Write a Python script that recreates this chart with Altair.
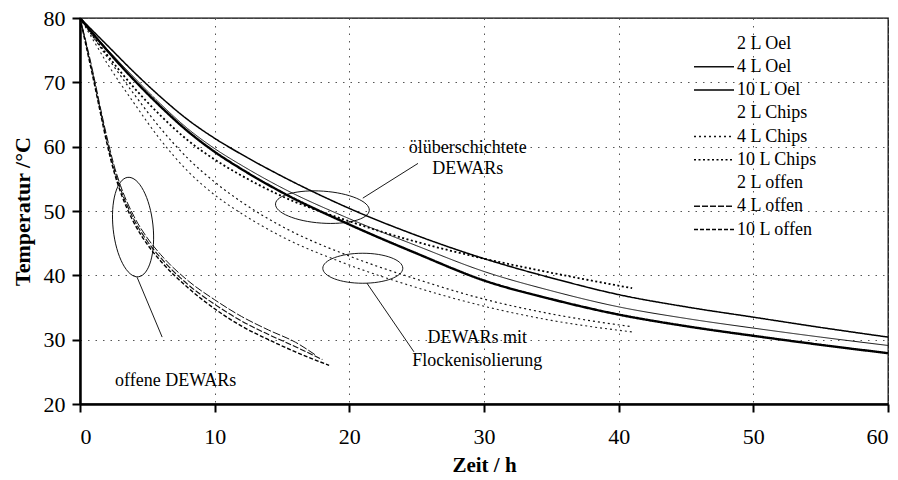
import altair as alt
import pandas as pd

# ---------------- data ----------------
series_names = ["2 L Oel", "4 L Oel", "10 L Oel",
                "2 L Chips", "4 L Chips", "10 L Chips",
                "2 L offen", "4 L offen", "10 L offen"]

t_oel = [0, 2, 4, 6, 8, 10, 12, 15, 20, 25, 30, 35, 40, 45, 50, 55, 60]
oel_2 = [80, 75.8, 71.6, 67.7, 64.2, 61.3, 58.8, 55.4, 50.4, 46.2, 42.6, 39.6, 37.0, 35.1, 33.5, 31.9, 30.4]
oel_4 = [80, 75.2, 70.8, 66.6, 62.8, 59.7, 57.1, 53.6, 48.8, 44.6, 40.6, 37.6, 35.1, 33.3, 31.8, 30.4, 29.1]
oel_10 = [80, 75.0, 70.4, 66.2, 62.4, 59.2, 56.5, 52.9, 47.9, 43.4, 39.2, 36.3, 33.9, 32.1, 30.6, 29.2, 27.9]

t_chips = [0, 1, 2, 4, 6, 8, 10, 12, 15, 20, 25, 30, 35, 41]
chips_2 = [80, 76.5, 73.0, 66.8, 61.0, 56.2, 52.5, 49.6, 46.0, 41.6, 38.1, 35.2, 33.0, 31.2]
chips_4 = [80, 77.0, 74.0, 68.2, 62.8, 58.2, 54.5, 51.4, 47.6, 43.0, 39.4, 36.3, 34.0, 32.0]
t_chips10 = [0, 2, 4, 6, 8, 10, 12, 15, 20, 25, 30, 35, 41]
chips_10 = [80, 74.3, 69.2, 64.8, 61.0, 58.0, 55.5, 52.3, 48.4, 45.2, 42.6, 40.4, 38.0]

t_off2 = [0, 0.5, 1, 1.5, 2, 2.5, 3, 4, 5, 6, 8, 10, 12, 14, 16, 17.5]
off_2 = [80, 75.8, 71.2, 66.2, 61.5, 57.3, 54.0, 49.2, 45.8, 43.2, 39.2, 36.2, 33.6, 31.5, 29.6, 27.6]
t_off4 = [0, 0.5, 1, 1.5, 2, 2.5, 3, 4, 5, 6, 8, 10, 12, 14, 16, 18]
off_4 = [80, 75.5, 70.8, 65.8, 61.0, 56.8, 53.5, 48.7, 45.3, 42.7, 38.6, 35.5, 32.9, 30.8, 28.9, 26.9]
t_off10 = [0, 0.5, 1, 1.5, 2, 2.5, 3, 4, 5, 6, 8, 10, 12, 14, 16, 18.5]
off_10 = [80, 75.2, 70.4, 65.4, 60.5, 56.3, 53.0, 48.2, 44.8, 42.2, 38.1, 34.8, 32.1, 30.0, 28.1, 26.0]

x_ticks = [0, 10, 20, 30, 40, 50, 60]
y_ticks = [20, 30, 40, 50, 60, 70, 80]

# annotation texts (data positions)
note_text = ["ölüberschichtete", "DEWARs", "DEWARs mit", "Flockenisolierung", "offene DEWARs"]
note_t = [28.8, 28.8, 29.5, 29.5, 7.1]
note_T = [59.8, 56.6, 30.2, 26.7, 23.6]

# ellipses: centre, half axes (px), rotation
ell_t = [18.0, 21.0, 3.94]
ell_T = [50.6, 41.1, 47.5]
ell_rx = [47, 40, 20]
ell_ry = [16, 15, 50]
ell_angle = [4, 0, 354]

# leader lines
lead_t1 = [21.0, 21.3, 4.24]
lead_T1 = [52.0, 38.8, 39.7]
lead_t2 = [25.1, 24.8, 6.1]
lead_T2 = [57.4, 28.1, 30.4]

# ---------------- styles ----------------
dashes = [[1, 0], [1, 0], [1, 0], [2, 3], [2, 3], [2, 2.5], [8, 2], [6, 2], [4, 2]]
widths = [1.5, 1.0, 2.4, 1.1, 1.2, 1.8, 1.0, 1.1, 1.4]
colors = ["#000000", "#111111", "#000000", "#222222", "#111111", "#000000",
          "#111111", "#111111", "#000000"]
FONT = "Liberation Serif"

series_data = [(t_oel, oel_2), (t_oel, oel_4), (t_oel, oel_10),
               (t_chips, chips_2), (t_chips, chips_4), (t_chips10, chips_10),
               (t_off2, off_2), (t_off4, off_4), (t_off10, off_10)]
rows = []
for name, w, (ts, vs) in zip(series_names, widths, series_data):
    for t, v in zip(ts, vs):
        rows.append({"series": name, "t": t, "T": v, "w": w})
df = pd.DataFrame(rows)

x_scale = alt.Scale(domain=[0, 60], nice=False, zero=False)
y_scale = alt.Scale(domain=[20, 80], nice=False, zero=False)

legend = alt.Legend(
    title=None, orient="none", legendX=613, legendY=16,
    symbolType="stroke", symbolSize=1600, symbolStrokeWidth=1.5,
    clipHeight=19, rowPadding=4.25,
    labelFont=FONT, labelFontSize=18, labelColor="black", labelOffset=2,
    padding=0,
    symbolOpacity={"expr": "indexof(datum.value, '2 L') === 0 ? 0 : 1"},
)

lines = alt.Chart(df).mark_line(interpolate="monotone", clip=True).encode(
    x=alt.X("t:Q", scale=x_scale, axis=alt.Axis(values=x_ticks, title="Zeit / h",
                                                 labelPadding=14, titlePadding=7)),
    y=alt.Y("T:Q", scale=y_scale, axis=alt.Axis(values=y_ticks, title="Temperatur /°C",
                                                labelPadding=7, titlePadding=9)),
    color=alt.Color("series:N", scale=alt.Scale(domain=series_names, range=colors), legend=legend),
    strokeDash=alt.StrokeDash("series:N", scale=alt.Scale(domain=series_names, range=dashes), legend=legend),
    strokeWidth=alt.StrokeWidth("w:Q", scale=None),
    order=alt.Order("t:Q"),
)

k = 0.5523
paths, sizes = [], []
for rx, ry in zip(ell_rx, ell_ry):
    m = max(rx, ry)
    a, b = rx / m, ry / m
    paths.append(
        f"M {a} 0 C {a} {k*b} {k*a} {b} 0 {b} C {-k*a} {b} {-a} {k*b} {-a} 0 "
        f"C {-a} {-k*b} {-k*a} {-b} 0 {-b} C {k*a} {-b} {a} {-k*b} {a} 0 Z")
    sizes.append((2 * m) ** 2)
ell_df = pd.DataFrame({"t": ell_t, "T": ell_T, "path": paths, "size": sizes, "angle": ell_angle})
ellipses = alt.Chart(ell_df).mark_point(filled=False, color="black", strokeWidth=0.9, opacity=1).encode(
    x=alt.X("t:Q", scale=x_scale), y=alt.Y("T:Q", scale=y_scale),
    shape=alt.Shape("path:N", scale=None),
    size=alt.Size("size:Q", scale=None),
    angle=alt.Angle("angle:Q", scale=None),
)

lead_df = pd.DataFrame({"t": lead_t1, "T": lead_T1, "t2": lead_t2, "T2": lead_T2})
leaders = alt.Chart(lead_df).mark_rule(color="black", strokeWidth=0.9).encode(
    x=alt.X("t:Q", scale=x_scale), y=alt.Y("T:Q", scale=y_scale),
    x2="t2:Q", y2="T2:Q",
)

note_df = pd.DataFrame({"text": note_text, "t": note_t, "T": note_T})
notes = alt.Chart(note_df).mark_text(font=FONT, fontSize=18, color="black",
                                     align="center", baseline="middle").encode(
    x=alt.X("t:Q", scale=x_scale), y=alt.Y("T:Q", scale=y_scale), text="text:N",
)

chart = alt.layer(lines, ellipses, leaders, notes).properties(
    width=808, height=386,
    autosize=alt.AutoSizeParams(type="none"),
    padding={"left": 80, "top": 18, "right": 10, "bottom": 76},
    background="white",
).configure_view(
    stroke="black", strokeWidth=1.3,
).configure_axis(
    labelFont=FONT, labelFontSize=22, labelColor="black",
    titleFont=FONT, titleFontSize=22, titleFontWeight="bold", titleColor="black",
    domainColor="black", domainWidth=2.5,
    tickColor="black", tickWidth=2, tickSize=8,
    grid=True, gridColor="#555555", gridDash=[1.5, 6], gridWidth=1,
).configure_axisX(titleFontSize=21)

chart.save("out.html", embed_options={"renderer": "svg", "actions": False})
